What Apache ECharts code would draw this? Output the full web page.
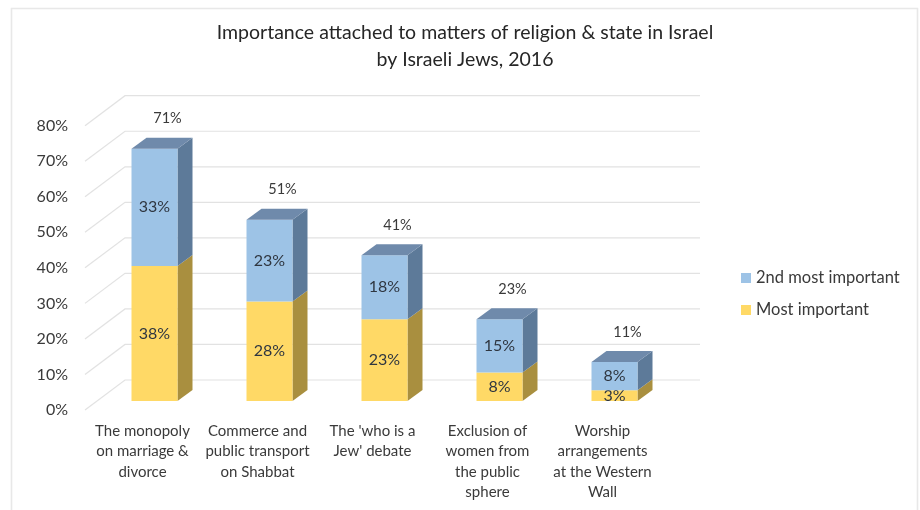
<!DOCTYPE html>
<html>
<head>
<meta charset="utf-8">
<style>html,body{margin:0;padding:0;background:#fff}#chart{width:920px;height:510px}</style>
<script src="https://cdn.jsdelivr.net/npm/echarts@6/dist/echarts.min.js"></script>
</head>
<body>
<div id="chart"></div>
<script>
const categories = [
  "The monopoly\non marriage &\ndivorce",
  "Commerce and\npublic transport\non Shabbat",
  "The 'who is a\nJew' debate",
  "Exclusion of\nwomen from\nthe public\nsphere",
  "Worship\narrangements\nat the Western\nWall"
];
const mostImportant = [38, 28, 23, 8, 3];
const secondImportant = [33, 23, 18, 15, 8];
const totals = [71, 51, 41, 23, 11];
const valueTicks = [0, 10, 20, 30, 40, 50, 60, 70, 80];

const FONT = 'Lato';
const TEXT = '#3a3a3a';

// Pseudo-3D geometry: floor depth of the chart box, and the placement of bars inside it.
const floor = { dx: 40, dy: -30 };
const barShift = { dx: 12, dy: -9 };
const barDepth = { dx: 15, dy: -11 };
const barShare = 0.4;

function poly(points, fill) {
  return { type: 'polygon', shape: { points }, style: { fill, stroke: null } };
}

// One stacked segment: front, right side and (for the upper segment) top face.
function segmentRenderer(front, side, top, hasTotal) {
  return function (params, api) {
    const i = api.value(0);
    const base = api.coord([i, api.value(1)]);
    const head = api.coord([i, api.value(1) + api.value(2)]);
    const w = api.size([1, 0])[0] * barShare;
    const x0 = base[0] + barShift.dx - w / 2;
    const x1 = x0 + w;
    const yb = base[1] + barShift.dy;
    const yt = head[1] + barShift.dy;
    const d = barDepth;
    const children = [
      poly([[x1, yb], [x1 + d.dx, yb + d.dy], [x1 + d.dx, yt + d.dy], [x1, yt]], side),
      poly([[x0, yb], [x1, yb], [x1, yt], [x0, yt]], front)
    ];
    if (top) {
      children.push(poly([[x0, yt], [x1, yt], [x1 + d.dx, yt + d.dy], [x0 + d.dx, yt + d.dy]], top));
    }
    children.push({
      type: 'text',
      style: {
        text: api.value(2) + '%', x: (x0 + x1) / 2, y: (yb + yt) / 2,
        align: 'center', verticalAlign: 'middle', fill: '#2f3640', font: '16px ' + FONT
      }
    });
    if (hasTotal) {
      children.push({
        type: 'text',
        style: {
          text: totals[i] + '%', x: x1 - 10, y: head[1] - 39,
          align: 'center', verticalAlign: 'middle', fill: TEXT, font: '14.5px ' + FONT
        }
      });
    }
    return { type: 'group', children };
  };
}

// Receding floor/wall gridlines: front edge to back wall, then along the back wall.
function gridRenderer(params, api) {
  const v = api.value(0);
  const halfBand = api.size([1, 0])[0] / 2;
  const first = api.coord([0, v]);
  const last = api.coord([categories.length - 1, v]);
  const start = [first[0] - halfBand, first[1]];
  const back = [start[0] + floor.dx, start[1] + floor.dy];
  const backEnd = [last[0] + halfBand + floor.dx, last[1] + floor.dy];
  return {
    type: 'polyline',
    shape: { points: [start, back, backEnd] },
    style: { fill: null, stroke: '#e2e2e2', lineWidth: 1.2 }
  };
}

const chart = echarts.init(document.getElementById('chart'), null, { renderer: 'canvas' });
chart.setOption({
  animation: false,
  backgroundColor: '#fff',
  title: {
    text: 'Importance attached to matters of religion & state in Israel\nby Israeli Jews, 2016',
    left: 460, top: 14, textAlign: 'center',
    textStyle: { fontFamily: FONT, fontSize: 19.5, fontWeight: 'normal', color: '#262626', lineHeight: 27 }
  },
  legend: {
    orient: 'vertical', left: 736, top: 264, itemWidth: 10, itemHeight: 10, itemGap: 14,
    icon: 'rect',
    data: ['2nd most important', 'Most important'],
    textStyle: { fontFamily: FONT, fontSize: 16.5, color: TEXT, lineHeight: 18 }
  },
  grid: { left: 85, top: 125.7, width: 575, height: 284.3 },
  xAxis: {
    type: 'category', data: categories,
    axisLine: { show: false }, axisTick: { show: false },
    axisLabel: { interval: 0, margin: 11, lineHeight: 20.3, fontFamily: FONT, fontSize: 15, color: TEXT }
  },
  yAxis: {
    type: 'value', min: 0, max: 80, interval: 10,
    axisLine: { show: false }, axisTick: { show: false }, splitLine: { show: false },
    axisLabel: { margin: 17, formatter: '{value}%', fontFamily: FONT, fontSize: 16, color: TEXT }
  },
  series: [
    {
      type: 'custom', name: 'gridlines', silent: true, z: 1,
      encode: { y: 0 },
      renderItem: gridRenderer,
      data: valueTicks.map(v => [v])
    },
    {
      type: 'custom', name: 'Most important', z: 2,
      itemStyle: { color: '#ffd966' },
      encode: { x: 0, y: 1 },
      renderItem: segmentRenderer('#ffd966', '#a98f3f', null, false),
      data: mostImportant.map((v, i) => [i, 0, v])
    },
    {
      type: 'custom', name: '2nd most important', z: 3,
      itemStyle: { color: '#9dc3e6' },
      encode: { x: 0, y: 1 },
      renderItem: segmentRenderer('#9dc3e6', '#5d7a99', '#6f8aab', true),
      data: secondImportant.map((v, i) => [i, mostImportant[i], v])
    }
  ],
  graphic: [
    { type: 'polyline', silent: true, shape: { points: [[11.5, 510], [11.5, 8.5], [917.5, 8.5], [917.5, 510]] }, style: { fill: null, stroke: '#e8e8e8', lineWidth: 1.6 } }
  ]
});
</script>
</body>
</html>
